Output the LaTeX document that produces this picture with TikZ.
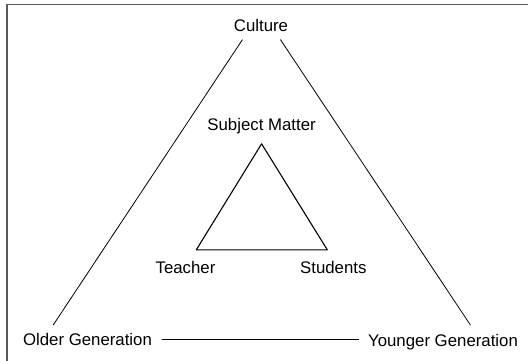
\documentclass[tikz,border=0pt]{standalone}
\usepackage{fontspec}
\setmainfont{Liberation Sans}
\begin{document}
\begin{tikzpicture}[x=1pt,y=-1pt,line join=round,line cap=round,
	lbl/.style={font=\fontsize{16.8}{20}\selectfont,inner sep=0pt,anchor=base}]
	\useasboundingbox (0,0) rectangle (528,360);
	\draw[line width=1.3pt,black!65] (7,362) -- (7,4.5) -- (530,4.5);
	\path
	(242.4,39.7) coordinate(CL)
	(280.5,39.7) coordinate(CR)
	(53.2,325) coordinate(OG)
	(470.4,325) coordinate(YG)
	(162,339.5) coordinate(OL)
	(358.6,339.5) coordinate(YL)
	(261.6,143.8) coordinate(S)
	(196.3,249.8) coordinate(T)
	(327.3,249.8) coordinate(P)
	;
	% labels
	\node[lbl] (cul) at (261,31.3) {Culture};
	\node[lbl] (old) at (87.5,345.5) {Older Generation};
	\node[lbl] (yng) at (443,346.3) {Younger Generation};
	\node[lbl] (sub) at (261.6,130.6) {Subject Matter};
	\node[lbl] (tea) at (185.5,273.7) {Teacher};
	\node[lbl] (stu) at (333.3,273.7) {Students};
	% outer triangle
	\draw[line width=0.8pt] (CL)--(OG) (CR)--(YG);
	\draw[line width=1pt] (OL)--(YL);
	% inner triangle
	\draw[line width=1.1pt] (S)--(T)--(P)--cycle;
\end{tikzpicture}
\end{document}
